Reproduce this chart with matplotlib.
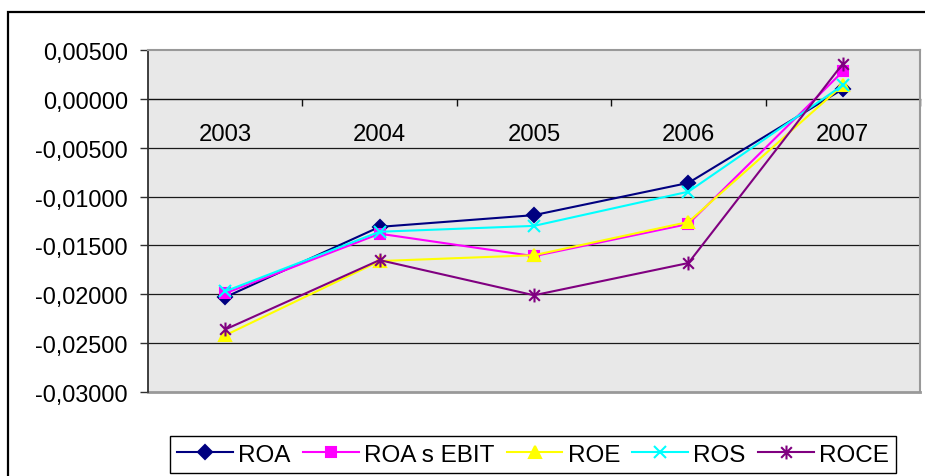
import matplotlib
matplotlib.use("Agg")
import matplotlib.pyplot as plt
from matplotlib.path import Path
from matplotlib.patches import Rectangle
from matplotlib.ticker import FixedLocator, FuncFormatter, NullFormatter

plt.rcParams['font.family'] = ['Liberation Sans', 'DejaVu Sans']

# Profitability ratios by year
years = ['2003', '2004', '2005', '2006', '2007']
roa = [-0.0203, -0.0131, -0.0119, -0.0086, 0.0010]
roa_ebit = [-0.0199, -0.0138, -0.0161, -0.0128, 0.0028]
roe = [-0.0242, -0.0166, -0.0160, -0.0126, 0.0014]
ros = [-0.0197, -0.0136, -0.0130, -0.0095, 0.0014]
roce = [-0.0236, -0.0165, -0.0201, -0.0168, 0.0036]

y_ticks = [-0.03, -0.025, -0.02, -0.015, -0.01, -0.005, 0.0, 0.005]

# asterisk marker: an "x" crossed by a vertical stroke
asterisk = Path(
    [(-1, -1), (1, 1), (-1, 1), (1, -1), (0, -1.3), (0, 1.3)],
    [Path.MOVETO, Path.LINETO, Path.MOVETO, Path.LINETO, Path.MOVETO, Path.LINETO],
)

series = [
    ('ROA', roa, '#000080', 'D', 7.5),
    ('ROA s EBIT', roa_ebit, '#FF00FF', 's', 7.0),
    ('ROE', roe, '#FFFF00', '^', 9.0),
    ('ROS', ros, '#00FFFF', 'x', 8.5),
    ('ROCE', roce, '#800080', asterisk, 10.0),
]

W, H = 925, 477
fig = plt.figure(figsize=(W / 100, H / 100), dpi=100)
fig.patch.set_facecolor('white')

ax = fig.add_axes([148 / W, (H - 393) / H, 772 / W, 342 / H])
ax.set_facecolor('#E8E8E8')
ax.set_xlim(-0.5, len(years) - 0.5)
ax.set_ylim(y_ticks[0], y_ticks[-1])

# horizontal gridlines
for v in y_ticks[1:-2]:
    ax.axhline(v, color='#1a1a1a', lw=0.9, zorder=1)

x = list(range(len(years)))
for name, vals, col, mk, ms in series:
    ax.plot(x, vals, color=col, lw=1.5, marker=mk, markersize=ms,
            markerfacecolor=col, markeredgecolor=col, markeredgewidth=1.5,
            label=name, zorder=3, clip_on=False)

# spines
for s in ('top', 'right'):
    ax.spines[s].set_color('#999999')
    ax.spines[s].set_linewidth(1.5)
ax.spines['left'].set_color('#303030')
ax.spines['left'].set_linewidth(1.3)
ax.spines['bottom'].set_position(('data', 0))
ax.spines['bottom'].set_color('#111111')
ax.spines['bottom'].set_linewidth(1.0)
ax.spines['bottom'].set_zorder(2)
ax.plot([0, 1], [0, 0], transform=ax.transAxes, color='#999999', lw=2.0,
        clip_on=False, zorder=2)

# value axis
ax.yaxis.set_major_locator(FixedLocator(y_ticks))
ax.yaxis.set_major_formatter(FuncFormatter(lambda v, p: f"{v:.5f}".replace('.', ',')))
ax.tick_params(axis='y', length=5.8, width=1.0, color='#303030', pad=8.6,
               labelsize=16.8)

# category axis crossing at zero
ax.xaxis.set_major_locator(FixedLocator(x))
ax.set_xticklabels(years)
ax.xaxis.set_minor_locator(FixedLocator([i + 0.5 for i in x]))
ax.xaxis.set_minor_formatter(NullFormatter())
ax.tick_params(axis='x', which='major', length=0, pad=17.5, labelsize=17.2)
ax.tick_params(axis='x', which='minor', length=5.0, width=1.0, color='#111111',
               direction='out')

# outer chart border
fig.add_artist(Rectangle((8 / W, -0.5), 2.0, (H - 13) / H + 0.5,
                         transform=fig.transFigure, fill=False,
                         edgecolor='black', lw=1.6, clip_on=False))

leg = fig.legend(loc='center', bbox_to_anchor=(533 / W, 21.5 / H), ncol=5,
                 frameon=True, fancybox=False, edgecolor='black', framealpha=1,
                 fontsize=17.5, handlelength=2.3, handletextpad=0.21,
                 columnspacing=0.5, borderpad=0.3, borderaxespad=0)
leg.get_frame().set_linewidth(1.0)

fig.savefig('out.png', dpi=100)
